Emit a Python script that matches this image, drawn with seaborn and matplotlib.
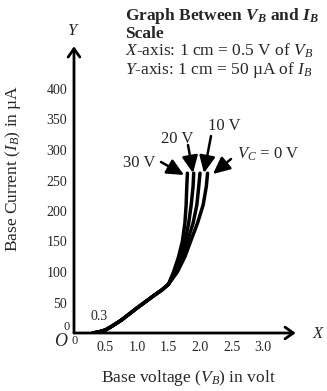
import matplotlib
matplotlib.use("Agg")
import matplotlib.pyplot as plt
import seaborn as sns
import pandas as pd

sns.set_theme(style="white")
plt.rcParams['font.family'] = ['Liberation Serif', 'DejaVu Serif']
plt.rcParams['mathtext.fontset'] = 'custom'
plt.rcParams['mathtext.rm'] = 'Liberation Serif'
plt.rcParams['mathtext.it'] = 'Liberation Serif:italic'
plt.rcParams['mathtext.bf'] = 'Liberation Serif:bold'
try:
    plt.rcParams['mathtext.bfit'] = 'Liberation Serif:italic:bold'
    BFIT = True
except Exception:
    BFIT = False

# Data
common_v = [0.3, 0.4, 0.5, 0.6, 0.75, 0.9, 1.0, 1.25, 1.4, 1.5]
common_i = [0, 2, 5, 11, 21, 33, 41, 60, 71, 80]
curve_labels = ["30 V", "20 V", "10 V", "$V_C$ = 0 V"]
tail_v = {
    "30 V": [1.58, 1.66, 1.72, 1.76, 1.78, 1.79, 1.80],
    "20 V": [1.60, 1.69, 1.76, 1.82, 1.86, 1.89, 1.90],
    "10 V": [1.62, 1.72, 1.80, 1.89, 1.95, 1.98, 2.00],
    "$V_C$ = 0 V": [1.64, 1.76, 1.85, 1.96, 2.05, 2.10, 2.12],
}
tail_i = [100, 125, 150, 180, 210, 240, 262]
yticks = [50, 100, 150, 200, 250, 300, 350, 400]
xticks = [0.5, 1.0, 1.5, 2.0, 2.5, 3.0]
xticklabels = ["0.5", "1.0", "1.5", "2.0", "2.5", "3.0"]

W, H = 327, 391
fig = plt.figure(figsize=(W / 100, H / 100), dpi=100)
x0, y0 = 74, 333          # pixel origin
sx, sy = 63.0, 0.61       # px per volt, px per uA
xmax, ymax = 3.52, 470
ax = fig.add_axes([x0 / W, (H - y0) / H, xmax * sx / W, ymax * sy / H])
ax.set_xlim(0, xmax)
ax.set_ylim(0, ymax)
for s in ax.spines.values():
    s.set_visible(False)

rows = []
for lab in curve_labels:
    vs = common_v + tail_v[lab]
    iss = common_i + tail_i
    for k, (v, i) in enumerate(zip(vs, iss)):
        rows.append(dict(curve=lab, order=k, V=v, I=i))
df = pd.DataFrame(rows)
sns.lineplot(data=df, x="V", y="I", units="curve", estimator=None, sort=False,
             color="black", lw=2.5, ax=ax, legend=False)

# axes with arrows
akw = dict(arrowstyle="->,head_width=0.35,head_length=0.5", lw=2, color="black",
           shrinkA=0, shrinkB=0)
ax.annotate("", xy=(0, ymax), xytext=(0, 0), arrowprops=akw, annotation_clip=False)
ax.annotate("", xy=(xmax, 0), xytext=(0, 0), arrowprops=akw, annotation_clip=False)

ax.set_xticks(xticks)
ax.set_xticklabels(xticklabels)
ax.set_yticks(yticks)
ax.tick_params(axis="both", direction="in", length=6, width=1.5, color="black",
               labelsize=10, pad=5)
ax.tick_params(axis="x", pad=6)
ax.set_xlabel("")
ax.set_ylabel("")

def ftext(px, py, s, **kw):
    fig.text(px / W, 1 - py / H, s, **kw)

ftext(73, 31, "$Y$", fontsize=12, ha="center", va="center")
ftext(319, 334, "$X$", fontsize=12, ha="center", va="center")
ftext(61, 341, "$O$", fontsize=13, ha="center", va="center")
ftext(75, 341, "0", fontsize=9, ha="center", va="center")
ftext(67, 327, "0", fontsize=9, ha="center", va="center")
ftext(99, 317, "0.3", fontsize=10, ha="center", va="center")

ftext(13, 168, "Base Current ($I_B$) in µA", fontsize=12.5, rotation=90,
      ha="center", va="center")
ftext(188, 378, "Base voltage ($V_B$) in volt", fontsize=12.5, ha="center", va="center")

if BFIT:
    title = "Graph Between $\\mathbfit{V}_{\\mathbfit{B}}$ and $\\mathbfit{I}_{\\mathbfit{B}}$"
else:
    title = "Graph Between $V_B$ and $I_B$"
ftext(125, 16, title, fontsize=12.5, fontweight="bold", ha="left", va="center")
ftext(125, 34, "Scale", fontsize=12.5, fontweight="bold", ha="left", va="center")
ftext(125, 51, "$X$-axis: 1 cm = 0.5 V of $V_B$", fontsize=12.5, ha="left", va="center")
ftext(125, 70, "$Y$-axis: 1 cm = 50 µA of $I_B$", fontsize=12.5, ha="left", va="center")

# curve labels with arrows (positions in pixels -> data)
def d(px, py):
    return ((px - x0) / sx, (y0 - py) / sy)

arrow_kw = dict(arrowstyle="-|>,head_width=0.4,head_length=0.85", lw=1.8, color="black",
                shrinkA=0, shrinkB=0, mutation_scale=12)
labels_pos = [
    ("30 V", (139, 163), (161, 162), (184, 175), "center"),
    ("20 V", (177, 139), (188, 145), (193, 173), "center"),
    ("10 V", (224, 126), (211, 136), (204, 173), "center"),
    ("$V_C$ = 0 V", (237, 154), (231, 159), (213, 174), "left"),
]
for s, tp, ap, hp, ha in labels_pos:
    ftext(tp[0], tp[1], s, fontsize=12, ha=ha, va="center")
    ax.annotate("", xy=d(*hp), xytext=d(*ap), arrowprops=arrow_kw, annotation_clip=False)

fig.savefig("out.png", dpi=100)
